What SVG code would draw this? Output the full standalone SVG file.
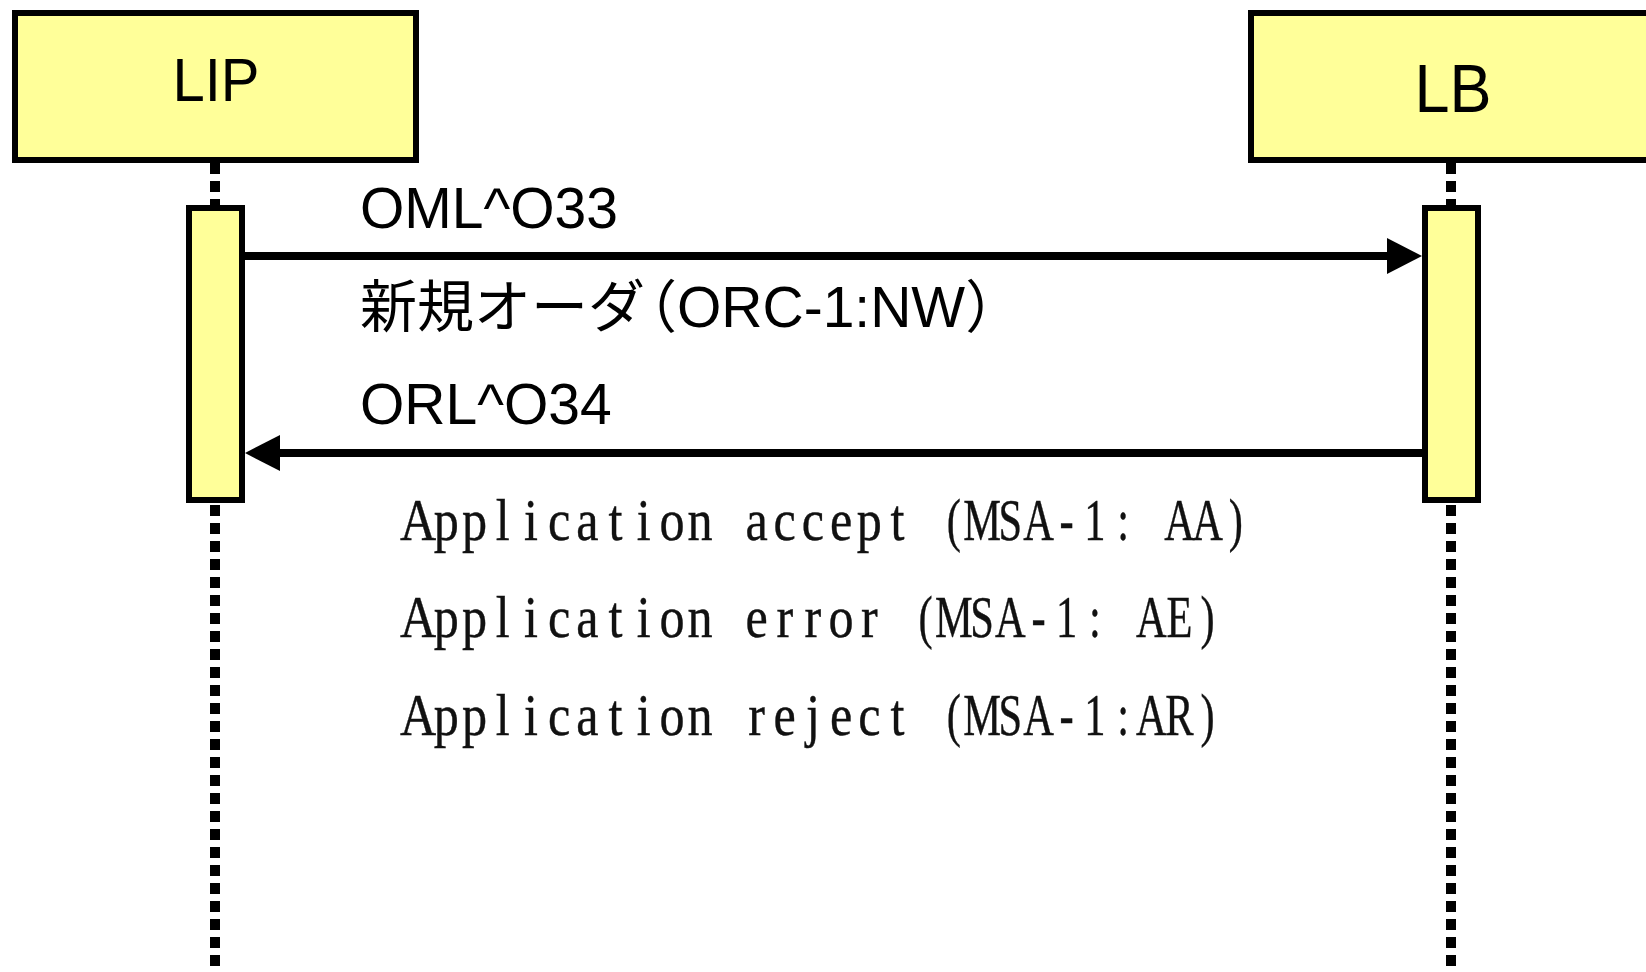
<svg xmlns="http://www.w3.org/2000/svg" width="1646" height="972" viewBox="0 0 1646 972">
<style>
.box{fill:#ffff99;stroke:#000;stroke-width:6}
.life{stroke:#000;stroke-width:10;stroke-dasharray:11 7;fill:none}
.msg{stroke:#000;stroke-width:8;fill:none}
.head{fill:#000}
.lbl{font-family:"Liberation Sans","Noto Sans CJK JP",sans-serif;fill:#000}
.note{font-family:"Liberation Serif",serif;font-size:59px;fill:#111;stroke:#111;stroke-width:0.4;text-anchor:middle}
</style>
<rect width="1646" height="972" fill="#fff"/>
<g id="lifelines">
<line class="life" x1="215" y1="163" x2="215" y2="972"/>
<line class="life" x1="1451" y1="163" x2="1451" y2="972"/>
</g>
<g id="LIP">
<rect class="box" x="15" y="13" width="401" height="147"/>
<text class="lbl" font-size="58" text-anchor="middle" transform="translate(216,101) scale(1,1.06)">LIP</text>
<rect class="box" x="189" y="208" width="53" height="292"/>
</g>
<g id="LB">
<rect class="box" x="1251" y="13" width="420" height="147"/>
<text class="lbl" font-size="63" text-anchor="middle" transform="translate(1453,112) scale(1,1.1)">LB</text>
<rect class="box" x="1425" y="208" width="53" height="292"/>
</g>
<g id="connectors">
<line class="msg" x1="245" y1="256" x2="1390" y2="256"/>
<polygon class="head" points="1422,256 1387,238 1387,274"/>
<line class="msg" x1="1422" y1="453" x2="277" y2="453"/>
<polygon class="head" points="245,453 280,435 280,471"/>
</g>
<g id="labels">
<text class="lbl" x="360" y="228" font-size="57">OML^O33</text>
<text class="lbl" x="360" y="327" font-size="57">新規オーダ<tspan dx="-25">（ORC-1:NW）</tspan></text>
<text class="lbl" x="360" y="424" font-size="57">ORL^O34</text>
<text class="note" transform="translate(404,540) scale(0.85,1)" x="16.59 49.77 82.95 116.13 149.31 182.49 215.67 248.85 282.03 315.21 348.39 381.57 414.75 447.93 481.11 514.29 547.47 580.65" y="0">Application accept</text>
<text class="note" transform="translate(939.8,540) scale(0.72,1)" x="19.58 58.75 97.92 137.08 176.25 215.42 254.58 293.75 332.92 372.08 411.25" y="0">(MSA-1: AA)</text>
<text class="note" transform="translate(404,637) scale(0.85,1)" x="16.59 49.77 82.95 116.13 149.31 182.49 215.67 248.85 282.03 315.21 348.39 381.57 414.75 447.93 481.11 514.29 547.47" y="0">Application error</text>
<text class="note" transform="translate(911.6,637) scale(0.72,1)" x="19.58 58.75 97.92 137.08 176.25 215.42 254.58 293.75 332.92 372.08 411.25" y="0">(MSA-1: AE)</text>
<text class="note" transform="translate(404,735) scale(0.85,1)" x="16.59 49.77 82.95 116.13 149.31 182.49 215.67 248.85 282.03 315.21 348.39 381.57 414.75 447.93 481.11 514.29 547.47 580.65" y="0">Application reject</text>
<text class="note" transform="translate(939.8,735) scale(0.72,1)" x="19.58 58.75 97.92 137.08 176.25 215.42 254.58 293.75 332.92 372.08" y="0">(MSA-1:AR)</text>
</g>
</svg>
